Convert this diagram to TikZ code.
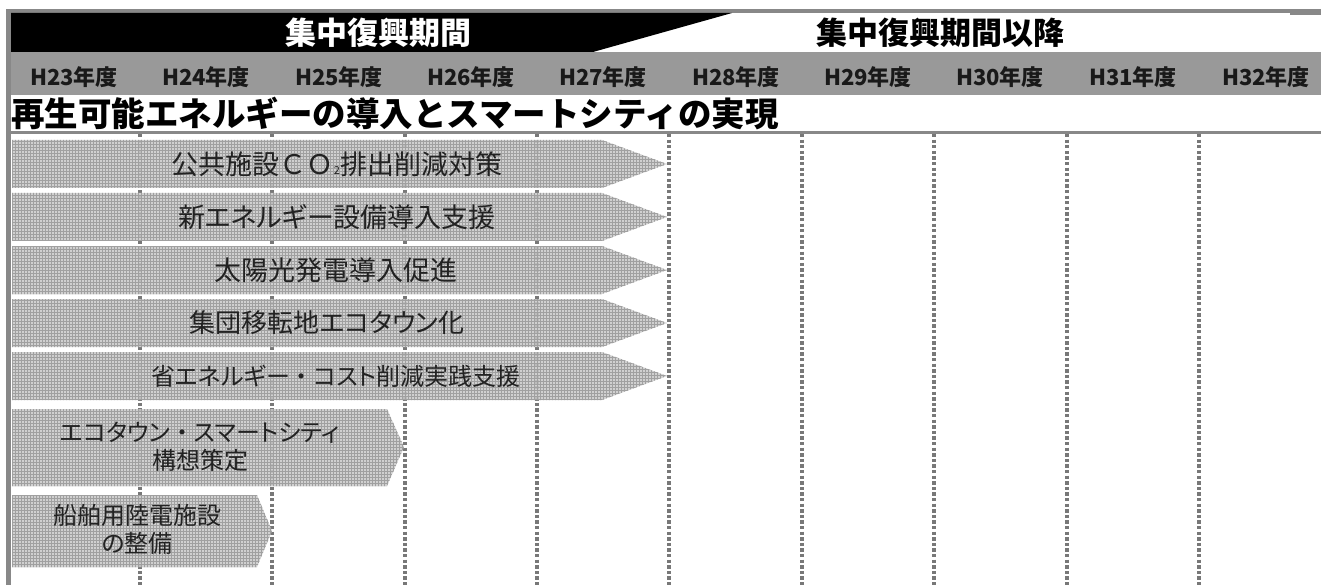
\documentclass[tikz,border=0pt]{standalone}
\usepackage{fontspec}
\newfontfamily\jp{Noto Sans CJK JP}
\newfontfamily\jpp[RawFeature=+palt]{Noto Sans CJK JP}
\usetikzlibrary{patterns}
\definecolor{framegray}{RGB}{136,136,136}
\definecolor{bandgray}{RGB}{153,153,153}
\definecolor{dashgray}{RGB}{120,120,120}
\definecolor{barfill}{RGB}{200,200,200}
\definecolor{barhatch}{RGB}{160,160,160}
\definecolor{bartext}{RGB}{34,34,34}
\tikzset{
  yearline/.style={dashgray, line width=3.2pt, dash pattern=on 3.3pt off 2.3pt},
  bar/.style={preaction={fill=barfill, fill opacity=0.85}, pattern=grid, pattern color=barhatch},
  barlabel/.style={inner sep=0pt, align=center, text=bartext, font=\jpp\fontsize{27}{28}\selectfont},
  barlabelsm/.style={barlabel, font=\jpp\fontsize{24}{28}\selectfont},
  yearlabel/.style={inner sep=0pt, text=black!90, font=\jp\bfseries\fontsize{22}{22}\selectfont},
  headlabel/.style={inner sep=0pt, font=\jp\bfseries\fontsize{31}{31}\selectfont},
}

\begin{document}
\begin{tikzpicture}[x=1pt, y=-1pt]
\useasboundingbox (0,0) rectangle (1321,585);
\fill[framegray] (6,9) rectangle (1321,13);
\fill[framegray] (1290,9) rectangle (1321,15);
\fill[framegray] (6,9) rectangle (11,585);
\fill[black] (11,13) -- (732,13) -- (593,52) -- (11,52) -- cycle;
\fill[bandgray] (11,52) rectangle (1321,95);
\fill[framegray] (6,131) rectangle (1321,134);
\node[headlabel, text=white] (shuchu) at (378,33) {集中復興期間};
\node[headlabel, text=black] (shuchuigo) at (940,33) {集中復興期間以降};
\node[yearlabel] (h23) at (74,77) {H23年度};
\node[yearlabel] (h24) at (206,77) {H24年度};
\node[yearlabel] (h25) at (339,77) {H25年度};
\node[yearlabel] (h26) at (471,77) {H26年度};
\node[yearlabel] (h27) at (603,77) {H27年度};
\node[yearlabel] (h28) at (736,77) {H28年度};
\node[yearlabel] (h29) at (868,77) {H29年度};
\node[yearlabel] (h30) at (1000,77) {H30年度};
\node[yearlabel] (h31) at (1133,77) {H31年度};
\node[yearlabel] (h32) at (1266,77) {H32年度};
\node[anchor=west, inner sep=0pt, font=\jp\bfseries\fontsize{33.5}{33.5}\selectfont] (theme) at (11,114) {再生可能エネルギーの導入とスマートシティの実現};
\draw[yearline] (140,134) -- (140,585);
\draw[yearline] (272,134) -- (272,585);
\draw[yearline] (405,134) -- (405,585);
\draw[yearline] (537,134) -- (537,585);
\draw[yearline] (669,134) -- (669,585);
\draw[yearline] (802,134) -- (802,585);
\draw[yearline] (934,134) -- (934,585);
\draw[yearline] (1067,134) -- (1067,585);
\draw[yearline] (1199,134) -- (1199,585);
\path[bar] (12,140) -- (602,140) -- (667,164) -- (602,188) -- (12,188) -- cycle;
\node[barlabel] (kokyo) at (337,164) {公共施設{\jp ＣＯ}{\fontsize{11}{11}\selectfont 2}排出削減対策};
\path[bar] (12,193) -- (602,193) -- (667,217) -- (602,241) -- (12,241) -- cycle;
\node[barlabel] (shinene) at (337,217) {新エネルギー設備導入支援};
\path[bar] (12,246) -- (602,246) -- (667,270) -- (602,294) -- (12,294) -- cycle;
\node[barlabel] (taiyoko) at (336,270) {太陽光発電導入促進};
\path[bar] (12,299) -- (602,299) -- (667,323) -- (602,347) -- (12,347) -- cycle;
\node[barlabel, font=\jpp\fontsize{26}{28}\selectfont] (ecotown) at (327,323) {集団移転地エコタウン化};
\path[bar] (12,352) -- (602,352) -- (667,376) -- (602,400) -- (12,400) -- cycle;
\node[barlabel, font=\jpp\fontsize{24}{28}\selectfont] (shoene) at (336,376) {省エネルギー{\jp ・}コスト削減実践支援};
\path[bar] (12,409) -- (387,409) -- (404,447) -- (387,486) -- (12,486) -- cycle;
\node[barlabelsm] (koso) at (200,447) {エコタウン{\jp ・}スマートシティ\\構想策定};
\path[bar] (12,495) -- (257,495) -- (272,531) -- (257,567) -- (12,567) -- cycle;
\node[barlabelsm] (rikuden) at (137,529) {船舶用陸電施設\\の整備};
\end{tikzpicture}
\end{document}
